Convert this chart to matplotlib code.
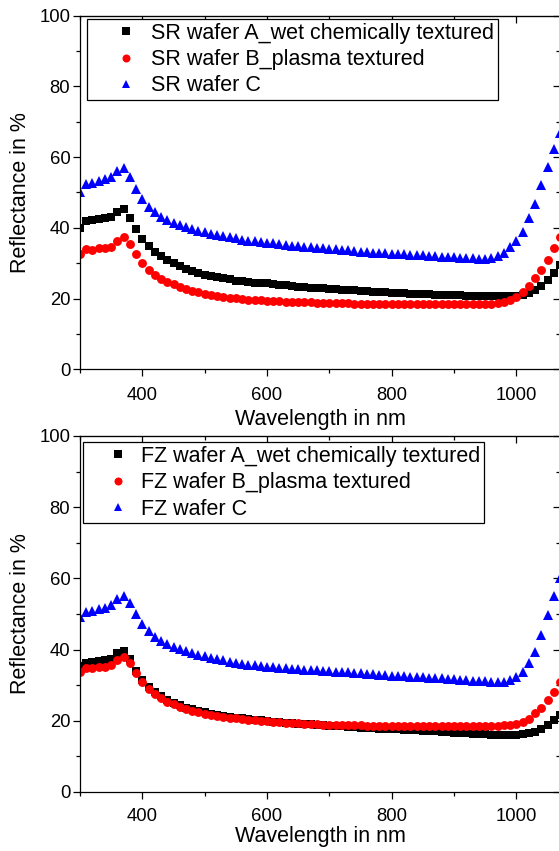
import matplotlib
matplotlib.use("Agg")
import matplotlib.pyplot as plt
from matplotlib.ticker import MultipleLocator
import numpy as np

plt.rcParams['font.family'] = ['Liberation Sans', 'DejaVu Sans']

wavelength = list(range(300, 1071, 10))

sr_a = [40.0, 41.9, 42.2, 42.5, 42.8, 43.2, 44.4, 45.2, 42.7, 39.6,
        36.9, 34.9, 33.3, 32.0, 30.9, 30.0, 29.2, 28.5, 27.8, 27.3,
        26.8, 26.4, 26.0, 25.7, 25.4, 25.1, 24.9, 24.7, 24.5, 24.4,
        24.3, 24.1, 23.9, 23.7, 23.5, 23.4, 23.2, 23.1, 23.0, 22.9,
        22.7, 22.6, 22.5, 22.4, 22.3, 22.2, 22.1, 22.0, 21.9, 21.8,
        21.7, 21.6, 21.5, 21.4, 21.4, 21.3, 21.2, 21.1, 21.1, 21.0,
        20.9, 20.9, 20.8, 20.8, 20.7, 20.7, 20.7, 20.7, 20.7, 20.7,
        20.8, 21.0, 21.5, 22.4, 23.6, 25.3, 27.3, 29.5]
sr_b = [32.6, 33.9, 33.8, 34.2, 34.2, 34.7, 36.4, 37.3, 35.4, 32.5,
        30.0, 28.1, 26.7, 25.6, 24.8, 24.0, 23.4, 22.8, 22.2, 21.8,
        21.4, 21.1, 20.8, 20.5, 20.3, 20.1, 19.9, 19.7, 19.6, 19.5,
        19.4, 19.3, 19.2, 19.1, 19.0, 19.0, 18.9, 18.9, 18.8, 18.8,
        18.7, 18.7, 18.7, 18.7, 18.6, 18.6, 18.6, 18.6, 18.6, 18.6,
        18.5, 18.5, 18.5, 18.5, 18.5, 18.5, 18.5, 18.5, 18.5, 18.5,
        18.5, 18.5, 18.5, 18.5, 18.5, 18.5, 18.6, 18.7, 19.0, 19.6,
        20.5, 22.0, 23.6, 25.7, 28.1, 30.9, 34.4, 37.5]
sr_c = [50.2, 52.3, 52.8, 53.3, 53.7, 54.5, 56.2, 57.0, 54.5, 51.1,
        48.2, 46.0, 44.4, 43.2, 42.2, 41.5, 40.8, 40.2, 39.7, 39.2,
        38.8, 38.4, 38.0, 37.6, 37.3, 37.0, 36.7, 36.4, 36.2, 36.0,
        35.8, 35.6, 35.4, 35.2, 35.0, 34.8, 34.7, 34.5, 34.4, 34.2,
        34.1, 33.9, 33.8, 33.6, 33.5, 33.3, 33.2, 33.0, 32.9, 32.8,
        32.7, 32.6, 32.5, 32.4, 32.3, 32.2, 32.1, 32.0, 31.9, 31.8,
        31.7, 31.6, 31.5, 31.4, 31.3, 31.3, 31.4, 32.0, 33.0, 34.7,
        36.3, 38.9, 42.7, 46.7, 52.1, 57.3, 62.3, 66.7]

fz_a = [35.4, 36.3, 36.6, 36.9, 37.1, 37.5, 39.0, 39.7, 37.3, 34.1,
        31.5, 29.6, 28.2, 27.0, 25.9, 25.0, 24.3, 23.7, 23.2, 22.8,
        22.4, 22.0, 21.7, 21.4, 21.1, 20.9, 20.7, 20.5, 20.3, 20.1,
        20.0, 19.8, 19.7, 19.5, 19.4, 19.2, 19.1, 19.0, 18.8, 18.7,
        18.6, 18.5, 18.4, 18.3, 18.2, 18.1, 18.0, 17.9, 17.8, 17.8,
        17.7, 17.6, 17.5, 17.4, 17.3, 17.2, 17.1, 17.0, 16.9, 16.8,
        16.7, 16.6, 16.5, 16.4, 16.3, 16.2, 16.1, 16.0, 16.0, 16.0,
        16.0, 16.2, 16.5, 16.9, 17.6, 18.8, 20.2, 21.6]
fz_b = [33.8, 34.7, 34.7, 35.0, 35.2, 35.7, 37.1, 38.0, 36.2, 33.3,
        31.0, 28.9, 27.5, 26.3, 25.4, 24.6, 23.9, 23.3, 22.8, 22.4,
        22.0, 21.7, 21.4, 21.1, 20.9, 20.7, 20.5, 20.3, 20.1, 20.0,
        19.9, 19.7, 19.6, 19.5, 19.4, 19.3, 19.2, 19.1, 19.0, 18.9,
        18.9, 18.8, 18.8, 18.7, 18.7, 18.7, 18.6, 18.6, 18.5, 18.5,
        18.5, 18.5, 18.5, 18.5, 18.5, 18.5, 18.5, 18.5, 18.5, 18.5,
        18.5, 18.5, 18.5, 18.5, 18.5, 18.5, 18.5, 18.6, 18.7, 18.8,
        19.0, 19.6, 20.4, 22.1, 23.5, 25.8, 28.2, 31.0]
fz_c = [49.2, 50.6, 50.9, 51.3, 51.8, 52.5, 54.1, 55.1, 53.2, 49.9,
        47.1, 45.2, 43.6, 42.5, 41.6, 40.8, 40.1, 39.5, 39.0, 38.5,
        38.1, 37.7, 37.3, 37.0, 36.6, 36.3, 36.0, 35.8, 35.6, 35.4,
        35.2, 35.1, 34.9, 34.8, 34.6, 34.5, 34.4, 34.3, 34.2, 34.1,
        33.9, 33.8, 33.7, 33.6, 33.4, 33.3, 33.2, 33.1, 33.0, 32.9,
        32.7, 32.6, 32.5, 32.4, 32.3, 32.2, 32.1, 32.0, 31.9, 31.8,
        31.7, 31.6, 31.5, 31.3, 31.2, 31.1, 31.0, 31.0, 31.0, 31.5,
        32.2, 33.8, 36.1, 39.4, 44.1, 49.7, 55.1, 60.0]

sr_labels = ["SR wafer A_wet chemically textured", "SR wafer B_plasma textured", "SR wafer C"]
fz_labels = ["FZ wafer A_wet chemically textured", "FZ wafer B_plasma textured", "FZ wafer C"]

x_label = "Wavelength in nm"
y_label = "Reflectance in %"

W, H = 559, 851
fig = plt.figure(figsize=(W / 100, H / 100), dpi=100)

def px_axes(left, top, right, bottom):
    return fig.add_axes([left / W, 1 - bottom / H, (right - left) / W, (bottom - top) / H])

ax1 = px_axes(80, 15.7, 560, 369.3)
ax2 = px_axes(80, 436, 560, 792)

styles = [dict(marker='s', color='#000000', ms=5.8),
          dict(marker='o', color='#ff0000', ms=6.4),
          dict(marker='^', color='#0000ff', ms=7.0)]

def draw(ax, series, labels, leg_anchor, hl, htp, xpad, lpad):
    for ys, lab, st in zip(series, labels, styles):
        ax.plot(wavelength, ys, linestyle='none', marker=st['marker'], color=st['color'],
                markersize=st['ms'], markeredgewidth=0, label=lab, clip_on=True)
    ax.set_xlim(300, 1070)
    ax.set_ylim(0, 100)
    ax.xaxis.set_major_locator(MultipleLocator(200))
    ax.xaxis.set_minor_locator(MultipleLocator(100))
    ax.yaxis.set_major_locator(MultipleLocator(20))
    ax.yaxis.set_minor_locator(MultipleLocator(10))
    ax.tick_params(axis='x', which='major', direction='out', length=5, width=0.9, labelsize=13.3,
                   top=False, pad=xpad)
    ax.tick_params(axis='y', which='major', direction='out', length=5, width=0.9, labelsize=13.3,
                   right=False, pad=2)
    ax.tick_params(which='minor', direction='out', length=3, width=0.9, top=False, right=False)
    for s in ax.spines.values():
        s.set_linewidth(0.9)
    sx = ax.secondary_xaxis('top')
    sx.xaxis.set_major_locator(MultipleLocator(200))
    sx.xaxis.set_minor_locator(MultipleLocator(100))
    sx.tick_params(which='major', direction='in', length=5, width=0.9, labeltop=False)
    sx.tick_params(which='minor', direction='in', length=3, width=0.9)
    sy = ax.secondary_yaxis('right')
    sy.yaxis.set_major_locator(MultipleLocator(20))
    sy.yaxis.set_minor_locator(MultipleLocator(10))
    sy.tick_params(which='major', direction='in', length=5, width=0.9, labelright=False)
    sy.tick_params(which='minor', direction='in', length=3, width=0.9)
    ax.set_xlabel(x_label, fontsize=15.5, labelpad=lpad)
    ax.set_ylabel(y_label, fontsize=15.5, labelpad=6)
    leg = ax.legend(loc='upper left', bbox_to_anchor=leg_anchor, borderaxespad=0,
                    fontsize=15.5, frameon=True, fancybox=False, edgecolor='black',
                    framealpha=1, borderpad=0.16, labelspacing=0.25, handlelength=hl,
                    handletextpad=htp, numpoints=1, markerscale=0.9)
    leg.get_frame().set_linewidth(0.9)

draw(ax1, [sr_a, sr_b, sr_c], sr_labels, (0.014, 0.99), 3.36, -0.52, 7.5, 4)
draw(ax2, [fz_a, fz_b, fz_c], fz_labels, (0.007, 0.982), 2.87, -0.36, 6.5, 1.0)

fig.savefig("out.png", dpi=100)
